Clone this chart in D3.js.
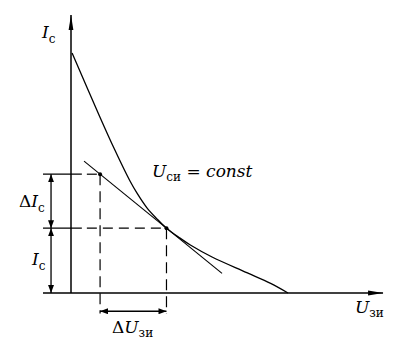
<!DOCTYPE html>
<html>
<head>
<meta charset="utf-8">
<script src="https://cdn.jsdelivr.net/npm/d3@7"></script>
<style>
  html, body { margin: 0; padding: 0; background: #fff; }
  svg { display: block; }
  svg text { font-family: "DejaVu Serif", "Liberation Serif", serif; }
</style>
</head>
<body>
<div id="chart"></div>
<script>
// Transfer characteristic I_c(U_зи) at U_си = const (units: % of scale)
const U_CURVE = [0.5, 13, 20, 27, 30.5, 35, 39.5, 44, 50, 55, 65, 81, 92, 100];
const I_CURVE = [100, 74, 60, 47, 41.5, 35.5, 31, 27, 23, 20, 15, 8.5, 4, 0];

// operating point and the second point used for the increments
const OP_POINT = [44, 27];
const DELTA_POINT = [13.4, 49.5];
// tangent drawn between these U values
const TANGENT_U = [6, 69.6];

const LABEL_CONST = "const";

const width = 402, height = 351;

const svg = d3.select("#chart").append("svg")
    .attr("width", width)
    .attr("height", height);

const x = d3.scaleLinear().domain([0, 100]).range([71, 288]);
const y = d3.scaleLinear().domain([0, 100]).range([293, 53]);

const defs = svg.append("defs");
defs.append("marker")
    .attr("id", "dim")
    .attr("markerUnits", "userSpaceOnUse")
    .attr("markerWidth", 9).attr("markerHeight", 6)
    .attr("refX", 8).attr("refY", 3)
    .attr("orient", "auto-start-reverse")
    .append("path").attr("d", "M0,0 L8,3 L0,6 Z").attr("fill", "#000");
defs.append("marker")
    .attr("id", "axis")
    .attr("markerUnits", "userSpaceOnUse")
    .attr("markerWidth", 16).attr("markerHeight", 6)
    .attr("refX", 15).attr("refY", 3)
    .attr("orient", "auto")
    .append("path").attr("d", "M0,0.6 L15,3 L0,5.4 Z").attr("fill", "#000");

const black = "#000";

// axes
svg.append("line")
    .attr("x1", x(0)).attr("y1", y(0))
    .attr("x2", x(0)).attr("y2", y(115.8))
    .attr("stroke", black).attr("stroke-width", 1.5)
    .attr("marker-end", "url(#axis)");
svg.append("line")
    .attr("x1", x(-12.9)).attr("y1", y(0))
    .attr("x2", x(143.8)).attr("y2", y(0))
    .attr("stroke", black).attr("stroke-width", 1.5)
    .attr("marker-end", "url(#axis)");

// characteristic curve
const line = d3.line()
    .x((d, i) => x(U_CURVE[i]))
    .y((d, i) => y(I_CURVE[i]))
    .curve(d3.curveCatmullRom.alpha(0.5));
svg.append("path")
    .attr("d", line(U_CURVE))
    .attr("fill", "none")
    .attr("stroke", black)
    .attr("stroke-width", 1.3);

// tangent through the operating point
const slope = (DELTA_POINT[1] - OP_POINT[1]) / (DELTA_POINT[0] - OP_POINT[0]);
const tanI = u => OP_POINT[1] + slope * (u - OP_POINT[0]);
svg.append("line")
    .attr("x1", x(TANGENT_U[0])).attr("y1", y(tanI(TANGENT_U[0])))
    .attr("x2", x(TANGENT_U[1])).attr("y2", y(tanI(TANGENT_U[1])))
    .attr("stroke", black).attr("stroke-width", 1.1);

// projections: short solid stub across the axis, dashed to the points
[DELTA_POINT, OP_POINT].forEach(p => {
    svg.append("line")
        .attr("x1", x(-12.9)).attr("y1", y(p[1]))
        .attr("x2", x(5)).attr("y2", y(p[1]))
        .attr("stroke", black).attr("stroke-width", 1.2);
    svg.append("line")
        .attr("x1", x(5)).attr("y1", y(p[1]))
        .attr("x2", x(p[0])).attr("y2", y(p[1]))
        .attr("stroke", black).attr("stroke-width", 1.2)
        .attr("stroke-dasharray", "10,6")
        .attr("stroke-dashoffset", -5);
    svg.append("line")
        .attr("x1", x(p[0])).attr("y1", y(p[1]))
        .attr("x2", x(p[0])).attr("y2", y(-8.5))
        .attr("stroke", black).attr("stroke-width", 1.2)
        .attr("stroke-dasharray", "11,6");
    svg.append("circle")
        .attr("cx", x(p[0])).attr("cy", y(p[1]))
        .attr("r", 2).attr("fill", black);
});

// dimension lines
const dimU = -9.2, dimI = -7.6;
[[DELTA_POINT[1], OP_POINT[1]], [OP_POINT[1], 0]].forEach(([a, b]) => {
    svg.append("line")
        .attr("x1", x(dimU)).attr("y1", y(a))
        .attr("x2", x(dimU)).attr("y2", y(b))
        .attr("stroke", black).attr("stroke-width", 1.3)
        .attr("marker-start", "url(#dim)")
        .attr("marker-end", "url(#dim)");
});
svg.append("line")
    .attr("x1", x(DELTA_POINT[0])).attr("y1", y(dimI))
    .attr("x2", x(OP_POINT[0])).attr("y2", y(dimI))
    .attr("stroke", black).attr("stroke-width", 1.3)
    .attr("marker-start", "url(#dim)")
    .attr("marker-end", "url(#dim)");

// labels: main letter italic, subscript upright and smaller
function label(px, py, parts) {
    const t = svg.append("text").attr("x", px).attr("y", py)
        .attr("fill", black);
    parts.forEach(p => {
        const s = t.append("tspan").text(p.t)
            .attr("font-size", p.sub ? 12 : 17)
            .attr("font-style", p.it ? "italic" : "normal");
        if (p.dy) s.attr("dy", p.dy);
        if (p.dx) s.attr("dx", p.dx);
    });
    return t;
}

label(42, 38, [{ t: "I", it: true }, { t: "с", sub: true, dy: 5 }]);
label(152, 177, [{ t: "U", it: true }, { t: "си", sub: true, dy: 4 },
    { t: " = ", dy: -4 }, { t: LABEL_CONST, it: true }]);
label(19, 207, [{ t: "Δ" }, { t: "I", it: true }, { t: "с", sub: true, dy: 5 }]);
label(32, 265, [{ t: "I", it: true }, { t: "с", sub: true, dy: 5 }]);
label(112, 333, [{ t: "Δ" }, { t: "U", it: true }, { t: "зи", sub: true, dy: 4 }]);
label(355, 313, [{ t: "U", it: true }, { t: "зи", sub: true, dy: 4 }]);
</script>
</body>
</html>
